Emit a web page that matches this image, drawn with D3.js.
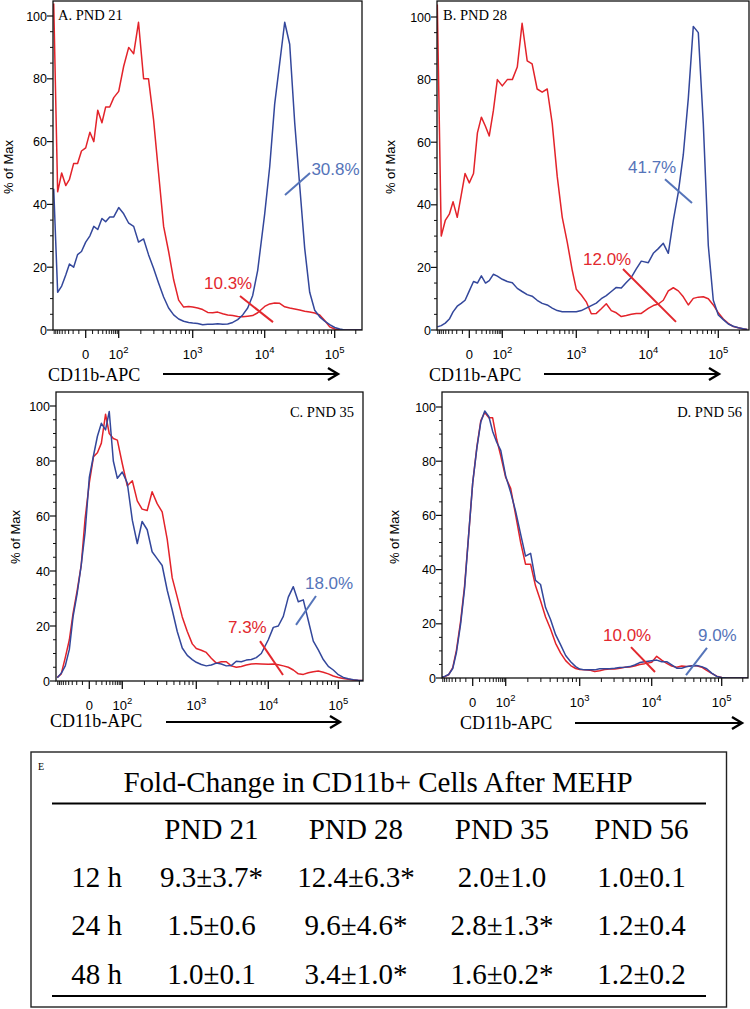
<!DOCTYPE html>
<html><head><meta charset="utf-8">
<script src="https://cdn.jsdelivr.net/npm/d3@7"></script>
<style>body{margin:0;background:#fff}</style>
</head><body>
<svg id="c" width="750" height="1009"></svg>
<script>
// ---------------- DATA ----------------
// histogram bin centres (CD11b-APC fluorescence intensity)
const bins = [-93,-70,-52,-38,-28,-19,-12,-6,
  0,6,12,19,28,38,52,70,
  100,117,137,160,186,218,254,297,347,406,474,554,647,756,883,
  1000,
  1173,1376,1616,1896,2224,2610,3063,3594,4217,4948,5806,6813,7994,
  10000,
  11790,13890,16380,19310,22760,26830,31620,37280,43940,51800,61050,71970,84830,
  100000,
  117900,138900,163800,193100,227600,
  259600];

// % of Max per bin — red = MEHP, blue = control
const redA = [104,44,50,46,48,53,53,57, 58,63,60,70,66,71,71,74,
  76,84,90,88,98,80,80,67,50,33,25,16,9.5,7.3,7.5, 7.3,
  7,6.5,5.6,5.5,5.7,5.2,4.8,4.6,4.3,4.2,4.4,4.6,5.5, 7.5,
  8.3,8.6,8.5,7.4,7,6.7,6.4,6,5.7,5.4,4.8,3,1, 0.3, 0,0,0,0,0, 0];
const blueA = [45,12,14,17.5,21,20,24,25, 28,30,33,32,35.5,34.5,36,36,
  39,37,34,33,28,29,24,19.7,15,10.5,7,4.8,3.5,2.8,2.4, 2.2,
  2.1,1.7,1.8,1.8,2,1.8,1.9,2.4,3.3,4.8,7,11,19, 37,
  52,72,85,98,91,66,46,26,12,6.3,4.2,2.8,1.7, 0.8, 0.3,0,0,0,0, 0];
const redB = [104,30,35,37,41,36,43,50, 47,50,63,68,65,62,70,80,
  78,80,80,84,98,86,85,77,76,77,66,49,36,28,19, 13,
  11.2,9,5.2,5.3,6.8,8.4,6.2,5.5,4.3,4.6,5,5.3,5.3, 6.9,
  7.8,8.3,9.5,12.5,13.5,12.5,10.6,8,10.1,10.5,10.6,10,8, 5.5, 3.5,2.1,1.1,0.7,0.3, 0.2];
const blueB = [1,1.4,2.2,3.5,5.8,7.6,8.5,9.5, 12.5,15.5,15,17.3,15,15.8,17.8,17.2,
  16.2,15.5,15.1,13.3,12.3,11.3,10.8,9.5,8.5,8,7,6.2,5.8,5.8,5.8, 5.8,
  6.2,7,7.8,8.6,10,11,12.3,13.6,13.4,15.2,16.8,19.5,22, 21.5,
  24.5,26,27.7,24.5,35,44,56,74,97,95,66,27,9.5, 4.8, 3.3,1.9,1.2,0.7,0.4, 0.2];
const redC = [1.3,2.6,8.5,15,24.6,33,42,59, 72,81.6,83,86.5,97,90,88.2,87.6,
  79,71,72.8,65.5,62.5,62,68.8,64.5,61.5,51.5,37.5,30.5,23.3,18,13.5, 11.8,
  11.2,10.4,8.3,6.5,7,7,5.5,5,5.3,5.8,6.2,6.3,6.2, 6.1,
  6.2,5.9,5.5,5,4,2.6,2.4,3,3.4,3.6,3.2,2.6,1.8, 1.3, 0.9,0.6,0.4,0.2,0.2, 0.1];
const blueC = [1.2,2.8,5.5,11.5,23.4,32,42,54, 74,82,89,93.7,91.3,98,80,73.7,
  76,72,58.5,50,58,55,47,44.5,42,33,25.8,18,12,9.3,7.8, 6.8,
  6,5.5,5.8,6.5,6.2,5.5,5.6,7.2,7,7.6,7.8,8.5,10, 15,
  19.5,20,23.5,30.5,34.3,28.8,29.5,22,14.5,11.3,7.8,5.3,4, 2.3, 1.3,0.8,0.5,0.3,0.2, 0.1];
const redD = [0.2,0.5,1.2,3.8,10.3,21,34,52, 72,85.4,95,98,96,96,88,82,
  74,70,60,50,42,42,34,28.5,22.5,18,12.8,9.2,6.4,4.6,3.5, 3.1,
  3,2.9,2.4,2.7,3.1,3.3,3.3,3.6,4,4.1,4.4,5,5.3, 5.8,
  8,6.6,5.4,4.4,4,4.4,4.2,4.5,4.5,4,2.8,1.7,0.7, 0.2, 0,0,0,0,0, 0];
const blueD = [0.2,0.6,1.3,3.5,9.5,20,33,52, 72,85,94.5,98.5,96.4,91,87,84,
  74.5,68.5,61.4,53,45,46,36,34.5,26,21.5,16,12.2,8.3,6,4.2, 3.3,
  3,3,3,3.4,3.4,3.4,3.6,3.9,4,4.2,4.8,5.7,6, 6.4,
  6.6,6,6,4.8,3.6,3.6,4.2,4.4,4.6,4.2,3.4,1.8,0.6, 0.2, 0,0,0,0,0, 0];

const panelTitles = ["A. PND 21", "B. PND 28", "C. PND 35", "D. PND 56"];
const redSeries  = [redA, redB, redC, redD];
const blueSeries = [blueA, blueB, blueC, blueD];
const redGate  = ["10.3%", "12.0%", "7.3%", "10.0%"];
const blueGate = ["30.8%", "41.7%", "18.0%", "9.0%"];
// gate annotation geometry in data units [intensity, % of Max]
const redGatePos = [
  {l1:[4540,10.8], l2:[13150,2.5], t:[1436,13.1]},
  {l1:[4454,19.5], l2:[24870,2.6], t:[1239,20.8]},
  {l1:[7670,14.5], l2:[16220,2.2], t:[2755,17.5]},
  {l1:[5158,11.4], l2:[11150,2.2], t:[2107,13.7]}];
const blueGatePos = [
  {l1:[19500,43], l2:[44400,50], t:[46500,49.4]},
  {l1:[17320,48.2], l2:[42100,40.6], t:[5225,50.2]},
  {l1:[24870,20.4], l2:[47990,30.9], t:[33430,33.5]},
  {l1:[30900,1.1], l2:[61660,11.1], t:[45830,13.7]}];

const yTicks = [0, 20, 40, 60, 80, 100];
const xMajor = [0, 1e2, 1e3, 1e4, 1e5];
const xMajorLabels = [["0",""], ["10","2"], ["10","3"], ["10","4"], ["10","5"]];
const xAxisTitle = "CD11b-APC";
const yAxisTitle = "% of Max";

const tableTitle = "Fold-Change in CD11b+ Cells After MEHP";
const colHeads = ["PND 21", "PND 28", "PND 35", "PND 56"];
const rowHeads = ["12 h", "24 h", "48 h"];
const cells = [
  ["9.3±3.7*", "12.4±6.3*", "2.0±1.0", "1.0±0.1"],
  ["1.5±0.6", "9.6±4.6*", "2.8±1.3*", "1.2±0.4"],
  ["1.0±0.1", "3.4±1.0*", "1.6±0.2*", "1.2±0.2"]];

// ---------------- LAYOUT ----------------
const SANS = "'Liberation Sans', Arial, Helvetica, sans-serif";
const SERIF = "'Liberation Serif', 'Times New Roman', Times, serif";
const RED = "#e3232a", BLUE = "#33479b";
const RED_T = "#e2282e", BLUE_T = "#5574b9";

const panels = [
  {left:53, right:362, top:1, bottom:330, y100:16, zero:85.7, yTitleX:8, yTitleY:167,
   title:{x:58, y:19.5, anchor:"start"}, xl:{x:48, y:380.5}, arrow:{x1:163, x2:338, y:374}},
  {left:437, right:749, top:1, bottom:330, y100:17, zero:469.3, yTitleX:390, yTitleY:167,
   title:{x:443, y:19.5, anchor:"start"}, xl:{x:429, y:381}, arrow:{x1:544, x2:719, y:374}},
  {left:56, right:363, top:392, bottom:681, y100:406, zero:89.3, yTitleX:15, yTitleY:537,
   title:{x:354, y:417, anchor:"end"}, xl:{x:50, y:727}, arrow:{x1:166, x2:340, y:722}},
  {left:442, right:748, top:392, bottom:678, y100:407, zero:472.7, yTitleX:394, yTitleY:537,
   title:{x:742, y:417, anchor:"end"}, xl:{x:460, y:729}, arrow:{x1:575, x2:742, y:723}}
];
const decadeOffsets = [0, 33, 107, 179, 249];
const T = v => Math.asinh(v / 20);   // biexponential-like display transform

const svg = d3.select("#c");
svg.append("rect").attr("width", 750).attr("height", 1009).attr("fill", "#fff");

// minor ticks
const xMinor = [];
for (let k = 1; k <= 9; k++) { xMinor.push(-10 * k); xMinor.push(10 * k); }
[100, 1000, 10000].forEach(d => { for (let k = 2; k <= 9; k++) xMinor.push(k * d); });
xMinor.push(200000);
const yMinor = d3.range(5, 100, 5).filter(v => v % 20 !== 0);

panels.forEach((p, i) => {
  const xs = d3.scaleLinear().domain(xMajor.map(T)).range(decadeOffsets.map(o => p.zero + o));
  const x = v => xs(T(v));
  const y = d3.scaleLinear().domain([0, 100]).range([p.bottom, p.y100]);
  const g = svg.append("g");

  g.append("clipPath").attr("id", "clip" + i).append("rect")
    .attr("x", p.left).attr("y", p.top).attr("width", p.right - p.left).attr("height", p.bottom - p.top);

  const line = d3.line().x((d, j) => x(bins[j])).y(d => y(d));
  const plot = g.append("g").attr("clip-path", `url(#clip${i})`);
  plot.append("path").attr("d", line(redSeries[i])).attr("fill", "none")
    .attr("stroke", RED).attr("stroke-width", 1.5).attr("stroke-linejoin", "round");
  plot.append("path").attr("d", line(blueSeries[i])).attr("fill", "none")
    .attr("stroke", BLUE).attr("stroke-width", 1.5).attr("stroke-linejoin", "round");

  // frame
  g.append("rect").attr("x", p.left).attr("y", p.top).attr("width", p.right - p.left)
    .attr("height", p.bottom - p.top).attr("fill", "none").attr("stroke", "#111").attr("stroke-width", 1.3);

  // y ticks
  yTicks.forEach(v => {
    g.append("line").attr("x1", p.left - 6).attr("x2", p.left).attr("y1", y(v)).attr("y2", y(v))
      .attr("stroke", "#111").attr("stroke-width", 1.2);
    g.append("text").attr("x", p.left - 6).attr("y", y(v)).attr("dy", "0.36em")
      .attr("text-anchor", "end").attr("font-family", SANS).attr("font-size", 12.5).text(v);
  });
  yMinor.forEach(v => {
    g.append("line").attr("x1", p.left - 3).attr("x2", p.left).attr("y1", y(v)).attr("y2", y(v))
      .attr("stroke", "#111").attr("stroke-width", 1);
  });
  g.append("text").attr("transform", `translate(${p.yTitleX},${p.yTitleY}) rotate(-90)`)
    .attr("text-anchor", "middle").attr("dy", "0.35em").attr("font-family", SANS).attr("font-size", 13)
    .text(yAxisTitle);

  // x ticks
  xMinor.forEach(v => {
    const xv = x(v);
    if (xv < p.left || xv > p.right) return;
    g.append("line").attr("x1", xv).attr("x2", xv).attr("y1", p.bottom).attr("y2", p.bottom + 4)
      .attr("stroke", "#111").attr("stroke-width", 1);
  });
  xMajor.forEach((v, k) => {
    const xv = x(v);
    g.append("line").attr("x1", xv).attr("x2", xv).attr("y1", p.bottom).attr("y2", p.bottom + 8)
      .attr("stroke", "#111").attr("stroke-width", 1.3);
    const t = g.append("text").attr("x", xv).attr("y", p.bottom + 29).attr("text-anchor", "middle")
      .attr("font-family", SANS).attr("font-size", 13);
    t.append("tspan").text(xMajorLabels[k][0]);
    if (xMajorLabels[k][1]) t.append("tspan").attr("dy", -6).attr("font-size", 9.5).text(xMajorLabels[k][1]);
  });

  // panel title
  g.append("text").attr("x", p.title.x).attr("y", p.title.y).attr("text-anchor", p.title.anchor)
    .attr("font-family", SERIF).attr("font-size", 14.5).text(panelTitles[i]);

  // x-axis title + arrow
  g.append("text").attr("x", p.xl.x).attr("y", p.xl.y).attr("font-family", SERIF).attr("font-size", 18)
    .text(xAxisTitle);
  g.append("line").attr("x1", p.arrow.x1).attr("x2", p.arrow.x2 - 1).attr("y1", p.arrow.y).attr("y2", p.arrow.y)
    .attr("stroke", "#000").attr("stroke-width", 2.2);
  g.append("path").attr("d", `M${p.arrow.x2 - 10},${p.arrow.y - 6} L${p.arrow.x2},${p.arrow.y} L${p.arrow.x2 - 10},${p.arrow.y + 6}`)
    .attr("fill", "none").attr("stroke", "#000").attr("stroke-width", 2.4);

  // gate annotations
  [[redGatePos[i], redGate[i], RED_T], [blueGatePos[i], blueGate[i], BLUE_T]].forEach(([a, lab, col]) => {
    g.append("line").attr("x1", x(a.l1[0])).attr("y1", y(a.l1[1])).attr("x2", x(a.l2[0])).attr("y2", y(a.l2[1]))
      .attr("stroke", col).attr("stroke-width", 2);
    g.append("text").attr("x", x(a.t[0])).attr("y", y(a.t[1])).attr("font-family", SANS)
      .attr("font-size", 17).attr("fill", col).text(lab);
  });
});

// ---------------- TABLE E ----------------
const tb = svg.append("g");
tb.append("rect").attr("x", 31).attr("y", 752).attr("width", 695.5).attr("height", 255)
  .attr("fill", "none").attr("stroke", "#222").attr("stroke-width", 1.4);
tb.append("text").attr("x", 38).attr("y", 770).attr("font-family", SERIF).attr("font-size", 10).text("E");
tb.append("text").attr("x", 378).attr("y", 792).attr("text-anchor", "middle")
  .attr("font-family", SERIF).attr("font-size", 29).text(tableTitle);
[803.5, 996].forEach(yy => tb.append("line").attr("x1", 52).attr("x2", 706).attr("y1", yy).attr("y2", yy)
  .attr("stroke", "#000").attr("stroke-width", 2));
const colX = [211.5, 356, 502, 641.5];
const rowY = [886.5, 935, 983.5];
colHeads.forEach((h, c) => tb.append("text").attr("x", colX[c]).attr("y", 839).attr("text-anchor", "middle")
  .attr("font-family", SERIF).attr("font-size", 29).text(h));
rowHeads.forEach((h, r) => {
  tb.append("text").attr("x", 96.5).attr("y", rowY[r]).attr("text-anchor", "middle")
    .attr("font-family", SERIF).attr("font-size", 29).text(h);
  cells[r].forEach((v, c) => tb.append("text").attr("x", colX[c]).attr("y", rowY[r]).attr("text-anchor", "middle")
    .attr("font-family", SERIF).attr("font-size", 29).text(v));
});
</script>
</body></html>
